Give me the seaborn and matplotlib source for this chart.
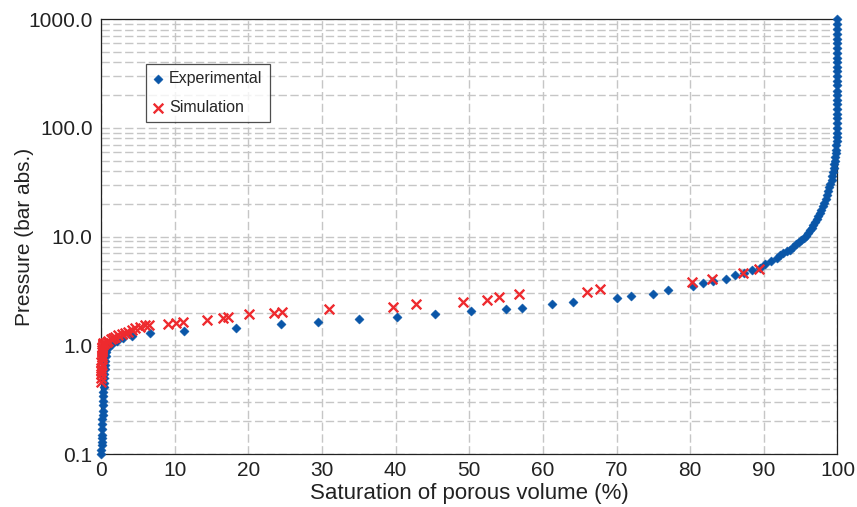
import numpy as np
import pandas as pd
import matplotlib
matplotlib.use("Agg")
import matplotlib.pyplot as plt
from matplotlib.ticker import FixedLocator, FuncFormatter, NullFormatter
import seaborn as sns

# saturation (%) and pressure (bar abs.)
exp_sat = [0.05, 0.05, 0.08, 0.1, 0.1, 0.12, 0.15, 0.15, 0.18, 0.2, 0.22, 0.25,
           0.28, 0.3, 0.32, 0.35, 0.38, 0.4, 0.45, 0.5, 0.55, 0.6, 0.65, 0.7,
           1.0, 1.5, 2.2, 3.0,
           4.17, 6.65, 11.31, 18.29, 24.40, 29.51, 35.07, 40.23, 45.35, 50.24,
           54.95, 57.12, 61.28, 64.09, 70.02, 72.01, 75.0, 77.03, 80.38, 81.78,
           83.06, 84.82, 86.08, 87.31, 88.35, 89.48, 90.2, 90.93,
           91.75, 92.2, 92.66, 93.1, 93.55, 94.0, 94.4, 94.8, 95.1, 95.4, 95.7,
           96.0, 96.3, 96.5, 96.7, 96.95, 97.2, 97.4, 97.6, 97.8, 98.0, 98.2,
           98.4, 98.55, 98.7, 98.85, 99.0, 99.2, 99.3, 99.4, 99.5, 99.58, 99.64,
           99.7, 99.75, 99.8, 99.84, 99.87, 99.9, 99.92, 99.93, 99.94, 99.95,
           99.96, 99.96, 99.97, 99.97, 99.97, 99.98, 99.98, 99.98, 99.99, 99.99,
           99.99, 99.99, 100, 100, 100, 100, 100, 100, 100, 100, 100]
exp_pres = [0.10, 0.11, 0.12, 0.13, 0.14, 0.15, 0.17, 0.19, 0.21, 0.23, 0.25, 0.28,
            0.31, 0.34, 0.37, 0.41, 0.45, 0.5, 0.55, 0.6, 0.66, 0.72, 0.79, 0.86,
            0.95, 1.02, 1.1, 1.16,
            1.22, 1.29, 1.36, 1.45, 1.57, 1.65, 1.73, 1.83, 1.95, 2.07,
            2.14, 2.22, 2.40, 2.48, 2.70, 2.84, 2.98, 3.22, 3.53, 3.76,
            3.92, 4.09, 4.40, 4.65, 4.92, 5.17, 5.55, 5.95,
            6.4, 6.7, 7.0, 7.3, 7.5, 8.06, 8.5, 8.9, 9.3, 9.6, 10.1,
            10.7, 11.4, 12.0, 12.8, 13.6, 14.5, 15.4, 16.3, 17.5, 18.9, 20.5,
            22.3, 24.2, 26.3, 28.5, 30.5, 33.1, 36, 39, 42.5, 46, 50,
            54, 58, 63, 69, 75, 82, 90, 100, 110, 122,
            135, 150, 165, 180, 200, 220, 245, 270, 300, 330,
            365, 400, 440, 490, 540, 600, 660, 730, 810, 900, 1000]

sim_sat = [0.0, 0.02, 0.0, 0.05, 0.03, 0.08, 0.05, 0.1, 0.08, 0.12, 0.1, 0.15,
           0.12, 0.18, 0.2, 0.25, 0.3,
           0.5, 0.8, 1.0, 1.3, 1.6, 1.9, 2.3, 2.8, 3.2, 3.7, 4.2, 4.6, 5.3,
           6.0, 6.5,
           9.14, 10.15, 11.18, 14.43, 16.52, 17.28, 20.1, 23.53, 24.62, 30.96,
           39.69, 42.73, 49.19, 52.37, 54.08, 56.71, 65.95, 67.71, 80.29, 82.92,
           87.21, 89.34]
sim_pres = [0.46, 0.5, 0.54, 0.58, 0.62, 0.66, 0.7, 0.74, 0.78, 0.82, 0.86, 0.9,
            0.94, 0.97, 1.0, 1.02, 1.04,
            1.05, 1.08, 1.1, 1.13, 1.16, 1.2, 1.23, 1.27, 1.3, 1.33, 1.38, 1.43,
            1.47, 1.52, 1.55,
            1.56, 1.59, 1.65, 1.71, 1.77, 1.83, 1.93, 1.99, 2.04, 2.14,
            2.25, 2.38, 2.52, 2.62, 2.78, 2.98, 3.11, 3.27, 3.84, 4.07,
            4.59, 4.99]

x_ticks = [0, 10, 20, 30, 40, 50, 60, 70, 80, 90, 100]
y_ticks = [0.1, 1.0, 10.0, 100.0, 1000.0]

exp_df = pd.DataFrame({"sat": exp_sat, "pres": exp_pres})
sim_df = pd.DataFrame({"sat": sim_sat, "pres": sim_pres})

sns.set_style("white")
plt.rcParams["font.family"] = ["Liberation Sans", "DejaVu Sans"]

fig = plt.figure(figsize=(8.57, 5.07), dpi=100)
ax = fig.add_axes([0.1179, 0.1045, 0.8593, 0.858])

sns.scatterplot(data=exp_df, x="sat", y="pres", ax=ax, marker="D", s=22,
                color="#0a56a8", edgecolor="#0a56a8", linewidth=0.3,
                label="Experimental", clip_on=False, zorder=3)
sns.scatterplot(data=sim_df, x="sat", y="pres", ax=ax, marker="x", s=48,
                color="#ee2a2e", linewidth=1.7, label="Simulation",
                clip_on=False, zorder=4)

ax.set_yscale("log")
ax.set_xlim(0, 100)
ax.set_ylim(0.1, 1000)
ax.xaxis.set_major_locator(FixedLocator(x_ticks))
ax.yaxis.set_major_locator(FixedLocator(y_ticks))
ax.yaxis.set_minor_locator(matplotlib.ticker.LogLocator(base=10, subs=np.arange(2, 10)))
ax.yaxis.set_major_formatter(FuncFormatter(lambda v, p: f"{v:.1f}"))
ax.yaxis.set_minor_formatter(NullFormatter())

grid_kw = dict(color="#c6c6c6", linewidth=1.0, linestyle=(0, (6, 2.5)))
ax.grid(True, which="both", axis="y", **grid_kw)
ax.grid(True, which="major", axis="x", **grid_kw)
ax.set_axisbelow(True)

ax.tick_params(axis="both", which="major", direction="in", length=7,
               width=0.9, labelsize=15, colors="#222222")
ax.tick_params(axis="x", which="major", pad=5)
ax.tick_params(axis="y", which="major", pad=6)
ax.tick_params(axis="y", which="minor", length=0)
for sp in ax.spines.values():
    sp.set_visible(True)
    sp.set_color("#222222")
    sp.set_linewidth(0.9)

ax.set_xlabel("Saturation of porous volume (%)", fontsize=16, color="#222222", labelpad=2)
ax.set_ylabel("Pressure (bar abs.)", fontsize=15, color="#222222", labelpad=-4)

leg = ax.legend(loc="upper left", bbox_to_anchor=(0.061, 0.896), borderaxespad=0,
                fontsize=11.5, frameon=True, fancybox=False, handletextpad=0.4,
                borderpad=0.45, labelspacing=0.85, handlelength=0.6)
leg.get_frame().set_edgecolor("#222222")
leg.get_frame().set_linewidth(0.9)

fig.savefig("out.png", dpi=100)
